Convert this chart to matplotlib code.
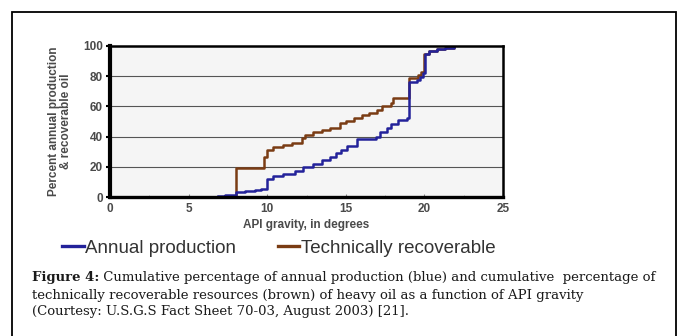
import numpy as np
import matplotlib
matplotlib.use("Agg")
import matplotlib.pyplot as plt
from matplotlib.patches import Rectangle
from matplotlib.lines import Line2D

# cumulative percent vs API gravity (step curves)
recov_api = [7.9, 8.0, 9.8, 10.0, 10.4, 11.0, 11.6, 12.2, 12.4, 12.9, 13.5, 14.0,
             14.6, 15.0, 15.5, 16.0, 16.5, 17.0, 17.3, 17.9, 18.0, 19.0, 19.6,
             19.8, 19.95, 20.3, 20.8, 21.3, 21.9]
recov_pct = [0, 19, 26.5, 31, 33, 34.5, 35.5, 39, 41, 43, 44.5, 46,
             49, 50.5, 52, 54, 55.5, 57.5, 60, 62, 65.5, 79, 81,
             83, 94.5, 96.5, 98, 99, 100]

prod_api = [6.9, 7.3, 7.8, 8.0, 8.6, 9.2, 9.6, 10.0, 10.4, 11.0, 11.8, 12.3,
            12.9, 13.5, 14.0, 14.4, 14.7, 15.1, 15.7, 16.9, 17.2, 17.6, 17.9,
            18.3, 18.9, 19.0, 19.5, 19.7, 19.9, 20.05, 20.3, 20.8, 21.3, 21.9]
prod_pct = [0.5, 1, 1.5, 3.5, 4, 4.5, 5.5, 12, 14, 15.5, 17, 20,
            22, 24.5, 26.5, 29, 31, 34, 38.5, 40, 43, 45.5, 48.5,
            51, 52.5, 76, 77.5, 79.5, 82, 95, 96.5, 98, 99, 100]

x_ticks = [0, 5, 10, 15, 20, 25]
y_ticks = [0, 20, 40, 60, 80, 100]

BLUE = "#23229a"
BROWN = "#7a3c14"
GREY_TXT = "#4a4a4a"

W, H = 678, 336
fig = plt.figure(figsize=(W / 100, H / 100), dpi=100)
fig.patch.set_facecolor("white")

# outer frame of the figure box
fig.patches.append(Rectangle((12 / W, -0.02), (676 - 12) / W, 1.02 - 12 / H,
                             transform=fig.transFigure, fill=False,
                             ec="black", lw=1.3))

ax = fig.add_axes([110 / W, 1 - 197 / H, (503 - 110) / W, (197 - 46) / H])
ax.set_facecolor("#f5f5f5")
ax.step(recov_api, recov_pct, where="post", color=BROWN, lw=1.8, zorder=3)
ax.step(prod_api, prod_pct, where="post", color=BLUE, lw=1.8, zorder=4)

ax.set_xlim(0, 25)
ax.set_ylim(0, 100)
ax.set_xticks(x_ticks)
ax.set_yticks(y_ticks)
ax.set_xticks([2.5, 7.5, 12.5, 17.5, 22.5], minor=True)
for y in y_ticks[1:-1]:
    ax.axhline(y, color="#555555", lw=0.8, zorder=1)

for side, lw in (("left", 3.0), ("bottom", 2.4), ("top", 1.8), ("right", 1.8)):
    ax.spines[side].set_linewidth(lw)
    ax.spines[side].set_color("black")
    ax.spines[side].set_zorder(5)

ax.tick_params(axis="y", length=3, width=1.5, color="black", pad=2,
               labelsize=8.5, labelcolor=GREY_TXT)
ax.tick_params(axis="x", which="major", direction="in", length=2, width=0.8,
               color="#888888", pad=4, labelsize=8.5, labelcolor=GREY_TXT)
ax.tick_params(axis="x", which="minor", direction="in", length=1.5,
               width=0.6, color="#aaaaaa")
for lab in ax.get_xticklabels() + ax.get_yticklabels():
    lab.set_fontweight("bold")
    lab.set_family("Liberation Sans")

ax.set_xlabel("API gravity, in degrees", fontsize=8.5, fontweight="bold",
              color=GREY_TXT, family="Liberation Sans", labelpad=3)
ax.set_ylabel("Percent annual production\n& recoverable oil", fontsize=8.5,
              fontweight="bold", color=GREY_TXT, family="Liberation Sans",
              labelpad=8, linespacing=1.05)

# legend drawn below the axes
handles = [Line2D([], [], color=BLUE, lw=2.4),
           Line2D([], [], color=BROWN, lw=2.4)]
fig.legend(handles, ["Annual production", "Technically recoverable"],
           loc="center left", bbox_to_anchor=(62 / W, 1 - 248 / H), ncol=2,
           frameon=False, handlelength=1.15, handletextpad=0.1,
           columnspacing=2.2, borderaxespad=0, borderpad=0,
           prop={"family": "Liberation Sans", "size": 13.5},
           labelcolor="#333333")

# caption
cap_x, cap_size = 32 / W, 9.5
rend = fig.canvas.get_renderer()
t = fig.text(cap_x, 1 - 278 / H, "Figure 4:", fontsize=cap_size,
             fontweight="bold", family="DejaVu Serif", va="center",
             color="#1a1a1a")
bb = t.get_window_extent(rend)
fig.text(bb.x1 / W, 1 - 278 / H,
         " Cumulative percentage of annual production (blue) and cumulative  percentage of",
         fontsize=cap_size, family="DejaVu Serif", va="center", color="#1a1a1a")
fig.text(cap_x, 1 - 295 / H,
         "technically recoverable resources (brown) of heavy oil as a function of API gravity",
         fontsize=cap_size, family="DejaVu Serif", va="center", color="#1a1a1a")
fig.text(cap_x, 1 - 312 / H,
         "(Courtesy: U.S.G.S Fact Sheet 70-03, August 2003) [21].",
         fontsize=cap_size, family="DejaVu Serif", va="center", color="#1a1a1a")

fig.savefig("out.png", dpi=100)
